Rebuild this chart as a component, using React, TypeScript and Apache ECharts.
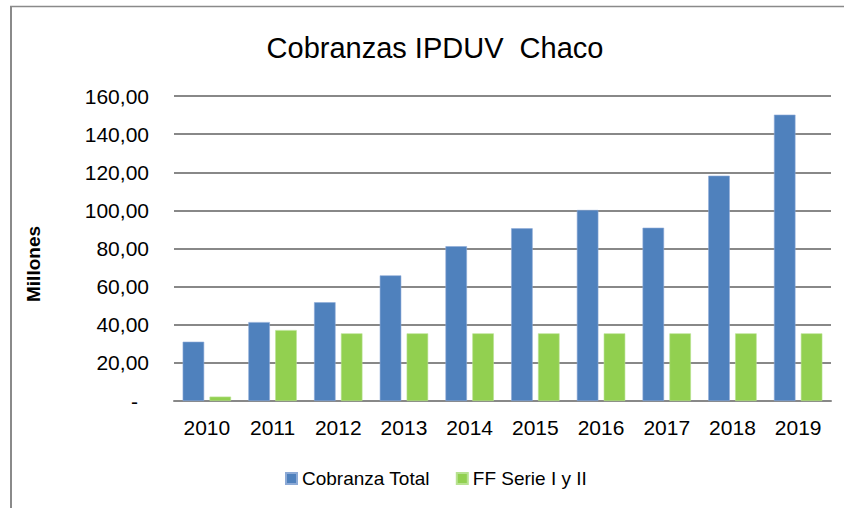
import React, { useEffect, useRef } from "react";
import * as echarts from "echarts";

const categories = ["2010", "2011", "2012", "2013", "2014", "2015", "2016", "2017", "2018", "2019"];
const cobranzaTotal = [31.1, 41.4, 51.8, 65.9, 81.2, 90.6, 100.2, 90.9, 118.2, 150.2];
const ffSerie = [2.3, 37.2, 35.5, 35.5, 35.5, 35.5, 35.5, 35.5, 35.5, 35.5];
const seriesNames = ["Cobranza Total", "FF Serie I y II"];
const titleText = "Cobranzas IPDUV  Chaco";
const yAxisTitle = "Millones";

const FONT = "'Liberation Sans', Arial, sans-serif";

function fmt(v: number): string {
  if (v === 0) return "{d|-}";
  return v.toFixed(2).replace(".", ",");
}

export default function App() {
  const ref = useRef<HTMLDivElement>(null);
  useEffect(() => {
    if (!ref.current) return;
    const chart = echarts.init(ref.current, undefined, { renderer: "svg" });
    chart.setOption({
      animation: false,
      backgroundColor: "#ffffff",
      title: {
        text: titleText,
        left: 430,
        top: 28,
        textAlign: "center",
        textStyle: { fontFamily: FONT, fontSize: 29, fontWeight: "normal", color: "#000" },
      },
      legend: {
        left: 280,
        top: 464,
        itemWidth: 11,
        itemHeight: 11,
        itemGap: 26,
        icon: "rect",
        textStyle: { fontFamily: FONT, fontSize: 19, color: "#000" },
        data: seriesNames,
      },
      grid: { left: 174, right: 13, top: 96, bottom: 107, containLabel: false },
      xAxis: {
        type: "category",
        data: categories,
        axisTick: { show: false },
        axisLine: { lineStyle: { color: "#888", width: 2 } },
        axisLabel: { margin: 16, fontFamily: FONT, fontSize: 21, color: "#000" },
      },
      yAxis: {
        type: "value",
        min: 0,
        max: 160,
        interval: 20,
        axisLine: { show: false },
        axisTick: { show: false },
        splitLine: { lineStyle: { color: "#888", width: 2 } },
        axisLabel: {
          margin: 25,
          fontFamily: FONT,
          fontSize: 21,
          color: "#000",
          formatter: fmt,
          rich: { d: { fontFamily: FONT, fontSize: 21, color: "#000", padding: [0, 11, 0, 0] } },
        },
      },
      graphic: [
        {
          type: "text",
          x: 33,
          y: 264,
          rotation: Math.PI / 2,
          style: {
            text: yAxisTitle,
            fontFamily: FONT,
            fontSize: 19,
            fontWeight: "bold",
            fill: "#000",
            align: "center",
            verticalAlign: "middle",
          },
        },
        {
          type: "line",
          shape: { x1: 11, y1: 6, x2: 11, y2: 520 },
          style: { stroke: "#8a8a8a", lineWidth: 2 },
        },
        {
          type: "line",
          shape: { x1: 10, y1: 6.5, x2: 860, y2: 6.5 },
          style: { stroke: "#8a8a8a", lineWidth: 1.5 },
        },
      ],
      series: [
        {
          name: seriesNames[0],
          type: "bar",
          data: cobranzaTotal,
          barWidth: 21.5,
          barGap: "25%",
          itemStyle: { color: "#4F81BD", borderColor: "#8DAAD6", borderWidth: 0.6 },
        },
        {
          name: seriesNames[1],
          type: "bar",
          data: ffSerie,
          barWidth: 21.5,
          barGap: "25%",
          itemStyle: { color: "#92D050", borderColor: "#B8E291", borderWidth: 0.6 },
        },
      ],
    });
    return () => chart.dispose();
  }, []);
  return (
    <div
      ref={ref}
      style={{ position: "fixed", left: 0, top: 0, width: 844, height: 508 }}
    />
  );
}
